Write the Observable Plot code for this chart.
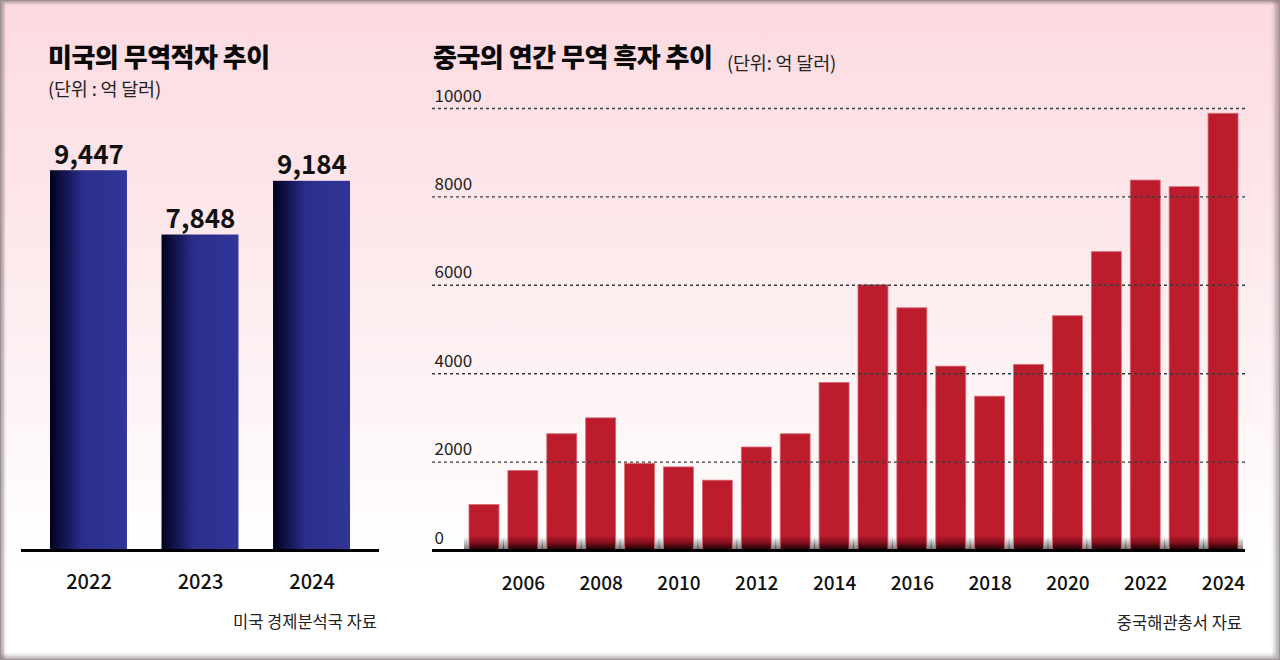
<!DOCTYPE html>
<html>
<head>
<meta charset="utf-8">
<script src="https://cdn.jsdelivr.net/npm/d3@7"></script>
<script src="https://cdn.jsdelivr.net/npm/@observablehq/plot@0.6"></script>
<style>
html, body { margin: 0; padding: 0; }
body { width: 1280px; height: 660px; overflow: hidden; font-family: "Noto Sans CJK KR", "Noto Sans", sans-serif; }
#wrap {
  position: relative; width: 1280px; height: 660px; overflow: hidden;
  background: linear-gradient(to bottom, #fcdae0 0%, #fde5e9 28%, #fdf0f2 52%, #fef9f9 72%, #ffffff 86%);
  box-shadow: inset 0 0 0 1px #9c9095, inset 4px 3px 3px rgba(95,80,88,0.45), inset -5px -4px 4px rgba(95,80,88,0.45);
}
.abs { position: absolute; white-space: nowrap; line-height: 1; color: #111; }
.title { font-size: 26px; font-weight: 900; letter-spacing: -0.5px; color: #0a0a0a; }
.sub { font-size: 18.5px; font-weight: 400; color: #222; letter-spacing: -0.2px; }
.cap { font-size: 16.5px; font-weight: 400; color: #222; letter-spacing: 0px; }
#left, #right { position: absolute; top: 0; }
#left { left: 0; }
#right { left: 420px; }
</style>
</head>
<body>
<svg width="0" height="0" style="position:absolute">
  <defs>
    <linearGradient id="navyGrad" x1="0" y1="0" x2="1" y2="0">
      <stop offset="0" stop-color="#01011a"/>
      <stop offset="0.12" stop-color="#0c0d40"/>
      <stop offset="0.42" stop-color="#2b2e8a"/>
      <stop offset="1" stop-color="#313598"/>
    </linearGradient>
    <linearGradient id="redGrad" gradientUnits="userSpaceOnUse" x1="0" y1="535" x2="0" y2="550">
      <stop offset="0" stop-color="#bd1c2d"/>
      <stop offset="0.45" stop-color="#8e1120"/>
      <stop offset="1" stop-color="#120003"/>
    </linearGradient>
    <linearGradient id="gapGrad" gradientUnits="userSpaceOnUse" x1="0" y1="537" x2="0" y2="550">
      <stop offset="0" stop-color="#000" stop-opacity="0"/>
      <stop offset="1" stop-color="#000" stop-opacity="0.55"/>
    </linearGradient>
  </defs>
</svg>
<div id="wrap">
  <div class="abs title" style="left:48px; top:43px;">미국의 무역적자 추이</div>
  <div class="abs sub" style="left:48px; top:79px;">(단위 : 억 달러)</div>
  <div class="abs title" style="left:433px; top:43px;">중국의 연간 무역 흑자 추이</div>
  <div class="abs sub" style="left:727px; top:53px;">(단위: 억 달러)</div>
  <div id="left"></div>
  <div id="right"></div>
  <div class="abs cap" style="right:903px; top:613px;">미국 경제분석국 자료</div>
  <div class="abs cap" style="right:38px; top:614px;">중국해관총서 자료</div>
</div>
<script>
// ---- Data ----
const usYears = ["2022", "2023", "2024"];
const usDeficit = [9447, 7848, 9184];

const cnYears = [2005, 2006, 2007, 2008, 2009, 2010, 2011, 2012, 2013, 2014,
                 2015, 2016, 2017, 2018, 2019, 2020, 2021, 2022, 2023, 2024];
const cnSurplus = [1030, 1800, 2630, 2990, 1960, 1880, 1580, 2330, 2630, 3790,
                   6000, 5480, 4160, 3480, 4200, 5300, 6750, 8370, 8220, 9880];
const cnYTicks = [0, 2000, 4000, 6000, 8000, 10000];
const cnXTickLabels = [2006, 2008, 2010, 2012, 2014, 2016, 2018, 2020, 2022, 2024];

const font = '"Noto Sans CJK KR", "Noto Sans", sans-serif';
const usData = usYears.map((year, i) => ({year, value: usDeficit[i]}));
const cnData = cnYears.map((year, i) => ({year, value: cnSurplus[i]}));

const left = Plot.plot({
  width: 400, height: 640,
  marginLeft: 21, marginRight: 21, marginTop: 148, marginBottom: 90,
  style: {background: "transparent", fontFamily: font, overflow: "visible"},
  x: {domain: usYears, paddingInner: 0.31, paddingOuter: 0.26, round: false, axis: null},
  y: {domain: [0, 10000], axis: null},
  marks: [
    Plot.barY(usData, {x: "year", y: "value", fill: "url(#navyGrad)"}),
    Plot.ruleY([0], {stroke: "#000", strokeWidth: 3}),
    Plot.text(usData, {x: "year", y: "value", text: d => d3.format(",")(d.value),
      lineAnchor: "bottom", dy: -7, fontSize: 26, fontWeight: 700, fill: "#111",
      style: {letterSpacing: "-2px"}}),
    Plot.axisX({tickSize: 0, tickPadding: 24, fontSize: 20, fontWeight: 500, fill: "#111", label: null})
  ]
});
document.getElementById("left").appendChild(left);

const right = Plot.plot({
  width: 860, height: 640,
  marginLeft: 12, marginRight: 35, marginTop: 108, marginBottom: 90,
  style: {background: "transparent", fontFamily: font, overflow: "visible"},
  x: {domain: cnYears, range: [42, 825], paddingInner: 0.23, paddingOuter: 0.18, round: false, axis: null},
  y: {domain: [0, 10000], axis: null},
  marks: [
    Plot.barY(cnData, {x: "year", y: "value", fill: "url(#gapGrad)", insetLeft: -5, insetRight: -5}),
    Plot.barY(cnData, {x: "year", y: "value", fill: "url(#redGrad)", stroke: "#d86a76", strokeWidth: 0.8}),
    Plot.ruleY(cnYTicks.filter(t => t > 0), {stroke: "#3a3a3a", strokeDasharray: "3,3", strokeWidth: 1.4}),
    Plot.ruleY([0], {stroke: "#000", strokeWidth: 3}),
    Plot.text(cnYTicks, {y: d => d, text: d => String(d), frameAnchor: "left", textAnchor: "start",
      lineAnchor: "bottom", dx: 2, dy: -7, fontSize: 17, fill: "#222"}),
    Plot.axisX({ticks: cnXTickLabels, tickFormat: d => String(d), tickSize: 0, tickPadding: 26,
      fontSize: 19, fontWeight: 500, fill: "#111", label: null})
  ]
});
document.getElementById("right").appendChild(right);
</script>
</body>
</html>
